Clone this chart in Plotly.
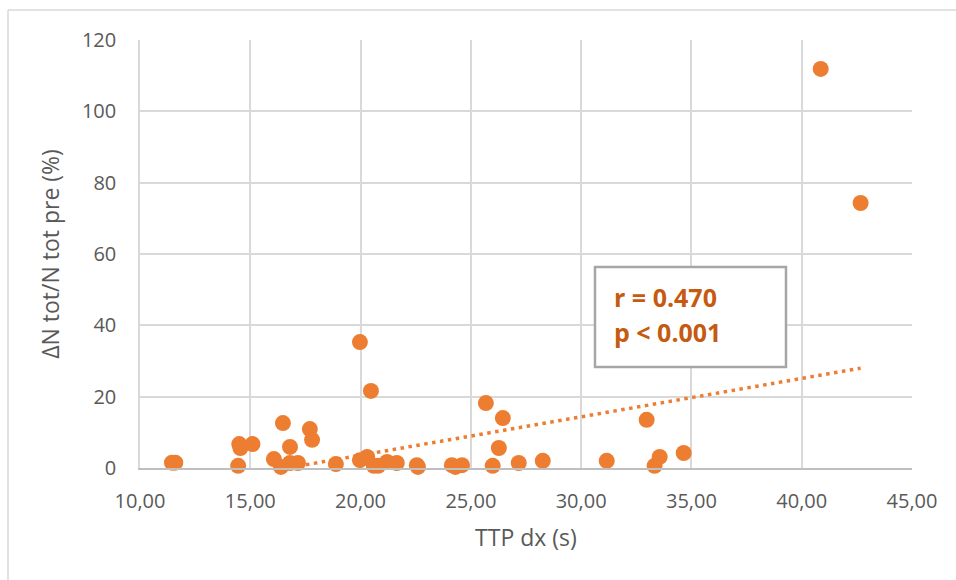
import plotly.graph_objects as go

# TTP dx (s) against relative change in total N (%)
ttp_dx = [11.45, 11.6, 14.45, 14.5, 14.55, 15.1, 16.07, 16.39, 16.48, 16.8,
          16.8, 17.16, 17.7, 17.8, 18.88, 19.97, 19.97, 20.3, 20.47, 20.6,
          20.8, 21.2, 21.64, 22.55, 22.6, 24.14, 24.3, 24.6, 25.68, 25.99,
          26.27, 26.45, 27.17, 28.26, 31.16, 32.97, 33.33, 33.56, 34.65,
          40.86, 42.67]
delta_n_pct = [1.5, 1.5, 0.6, 6.7, 5.6, 6.7, 2.5, 0.3, 12.6, 1.4,
               5.9, 1.4, 10.9, 7.9, 1.1, 35.3, 2.2, 3.1, 21.6, 0.6,
               0.6, 1.7, 1.4, 0.8, 0.3, 0.8, 0.3, 0.8, 18.2, 0.6,
               5.6, 14.0, 1.4, 2.0, 2.0, 13.5, 0.6, 3.1, 4.2,
               111.9, 74.3]

# linear trendline coefficients shown on the chart
trend_slope = 1.077
trend_intercept = -17.96

x_tickvals = [10, 15, 20, 25, 30, 35, 40, 45]
x_ticktext = ["10,00", "15,00", "20,00", "25,00", "30,00", "35,00", "40,00", "45,00"]
y_tickvals = [0, 20, 40, 60, 80, 100, 120]

stats_lines = ["r = 0.470", "p < 0.001"]

ORANGE = "#ED7D31"
DARK_ORANGE = "#C55A11"
GRID = "#D9D9D9"
TEXT = "#595959"
FONT = "Open Sans"

trend_x = [min(ttp_dx), max(ttp_dx)]
trend_y = [trend_slope * v + trend_intercept for v in trend_x]

fig = go.Figure()
fig.add_trace(go.Scatter(
    x=trend_x, y=trend_y, mode="lines",
    line=dict(color=ORANGE, width=3.5, dash="3.5px,4.5px"),
    hoverinfo="skip", showlegend=False,
))
fig.add_trace(go.Scatter(
    x=ttp_dx, y=delta_n_pct, mode="markers", cliponaxis=False,
    marker=dict(color=ORANGE, size=16, line=dict(width=0)),
    showlegend=False,
))

W, H = 956, 580
L, R, T, B = 140, 44, 40, 112
pw, ph = W - L - R, H - T - B


def px(xp):
    return (xp - L) / pw


def py(yp):
    return (H - B - yp) / ph


shapes = [
    # outer chart frame (left and top edges)
    dict(type="line", xref="paper", yref="paper", x0=px(8), x1=px(8),
         y0=py(600), y1=py(10), line=dict(color=GRID, width=1.5)),
    dict(type="line", xref="paper", yref="paper", x0=px(8), x1=px(970),
         y0=py(10), y1=py(10), line=dict(color=GRID, width=1.5)),
    # statistics box
    dict(type="rect", xref="paper", yref="paper", x0=px(595), x1=px(786),
         y0=py(367), y1=py(267), fillcolor="white",
         line=dict(color="#A6A6A6", width=2.5), layer="above"),
]

annotations = [
    dict(xref="paper", yref="paper", x=px(612), y=py(297), text=stats_lines[0],
         showarrow=False, xanchor="left", yanchor="middle",
         font=dict(family=FONT, size=25, color=DARK_ORANGE, weight="bold")),
    dict(xref="paper", yref="paper", x=px(612), y=py(332), text=stats_lines[1],
         showarrow=False, xanchor="left", yanchor="middle",
         font=dict(family=FONT, size=25, color=DARK_ORANGE, weight="bold")),
]

fig.update_layout(
    width=W, height=H,
    margin=dict(l=L, r=R, t=T, b=B),
    paper_bgcolor="white", plot_bgcolor="white",
    font=dict(family=FONT, color=TEXT),
    shapes=shapes, annotations=annotations,
    xaxis=dict(
        range=[10, 45], tickvals=x_tickvals, ticktext=x_ticktext,
        showgrid=True, gridcolor=GRID, gridwidth=1.5,
        showline=True, linecolor="#BFBFBF", linewidth=1.5,
        zeroline=False, ticks="", tickfont=dict(size=20, color=TEXT),
        ticklabelstandoff=14,
        title=dict(text="TTP dx (s)", font=dict(size=23, color=TEXT), standoff=17),
    ),
    yaxis=dict(
        range=[0, 120], tickvals=y_tickvals,
        showgrid=True, gridcolor=GRID, gridwidth=1.5,
        showline=True, linecolor=GRID, linewidth=1.5,
        zeroline=False, ticks="", tickfont=dict(size=20, color=TEXT),
        ticklabelstandoff=18,
        title=dict(text="ΔN tot/N tot pre (%)", font=dict(size=23, color=TEXT), standoff=16),
    ),
)

fig.write_html("out.html")
